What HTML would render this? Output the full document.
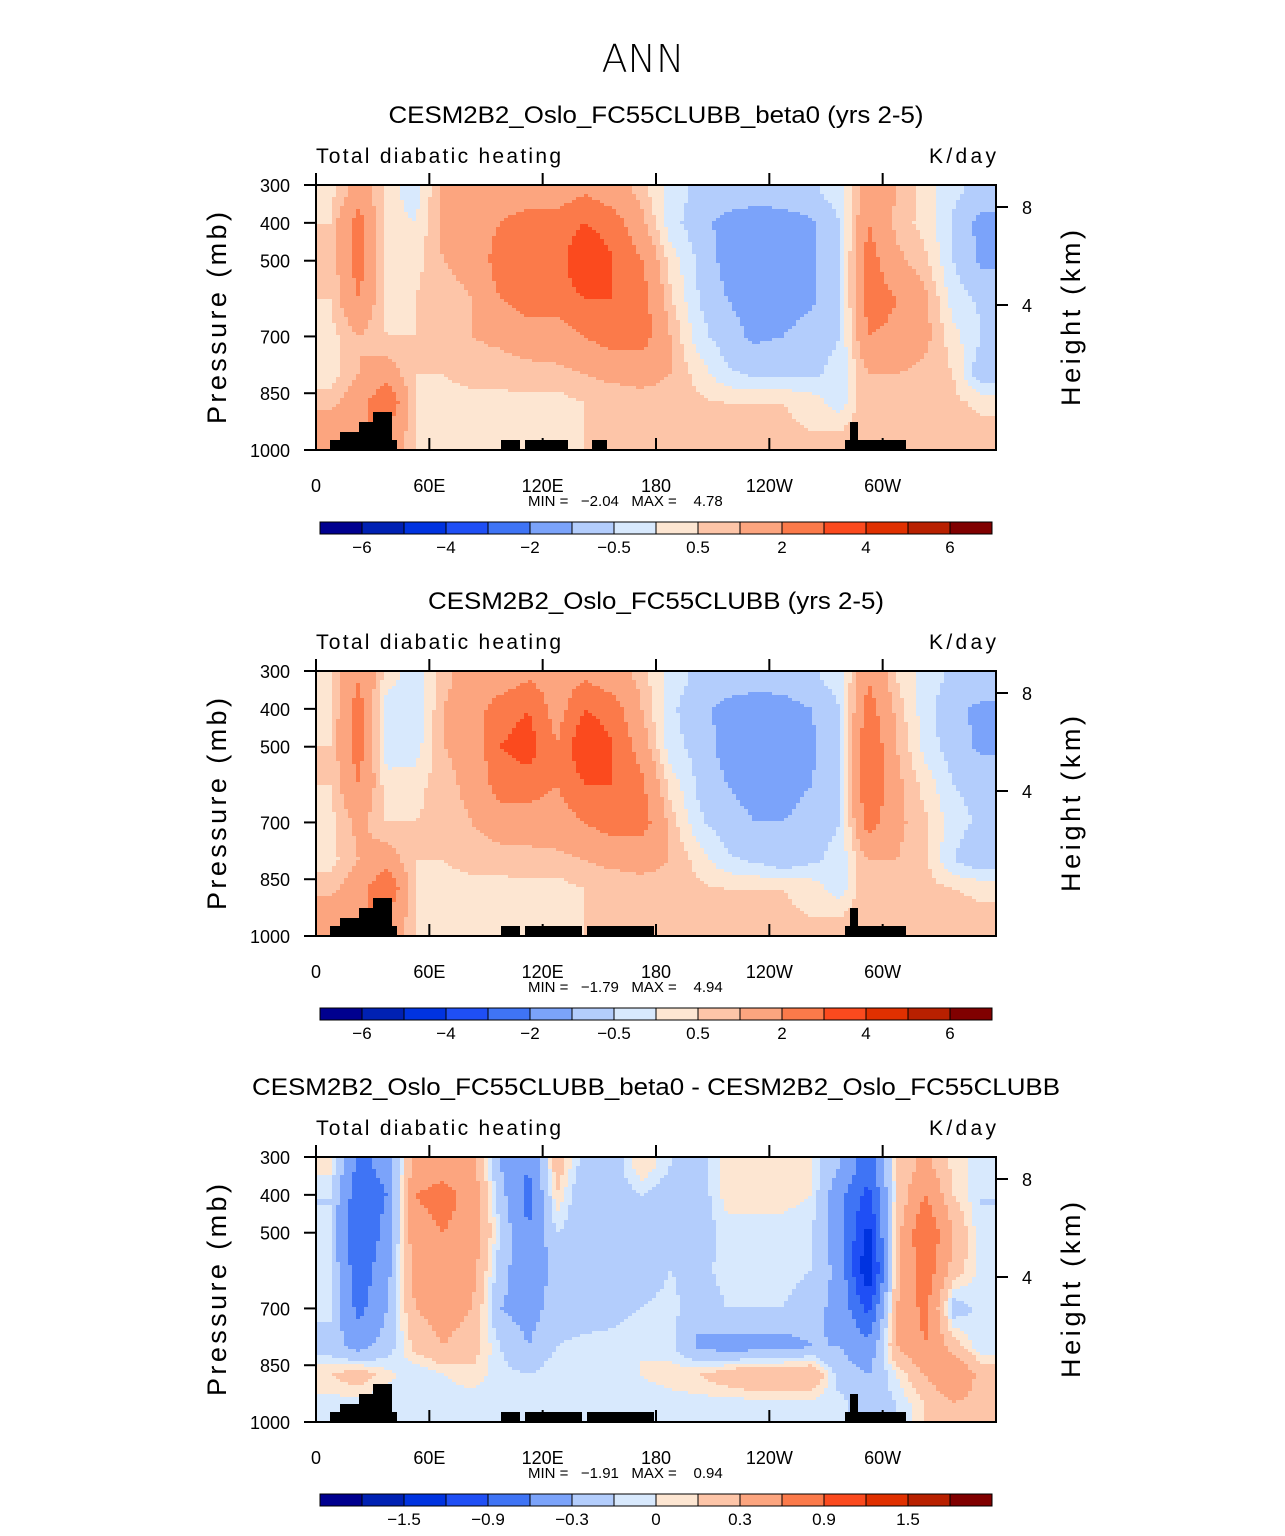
<!DOCTYPE html>
<html><head><meta charset="utf-8">
<style>
body{margin:0;background:#fff;}
svg text{font-family:"Liberation Sans",sans-serif;fill:#000;}
</style></head>
<body>
<svg id="chart" width="1285" height="1531" viewBox="0 0 1285 1531" xmlns="http://www.w3.org/2000/svg">
<text x="643" y="72" font-size="38" text-anchor="middle" style="font-family:'DejaVu Sans',sans-serif;font-weight:200">ANN</text>
</svg>
<script>
// ---- data ----
const lonCenters = [7.5,22.5,37.5,52.5,67.5,82.5,97.5,112.5,127.5,142.5,157.5,172.5,187.5,202.5,217.5,232.5,247.5,262.5,277.5,292.5,307.5,322.5,337.5,352.5];
const presCenters = [325,400,500,600,700,800,875,950];
const levelsAbs = [-6,-5,-4,-3,-2,-1,-0.5,0,0.5,1,2,3,4,5,6];
const levelsDiff = [-1.8,-1.5,-1.2,-0.9,-0.6,-0.3,-0.1,0,0.1,0.3,0.6,0.9,1.2,1.5,1.8];
const labelsAbs = ["−6","−4","−2","−0.5","0.5","2","4","6"];
const labelsDiff = ["−1.5","−0.9","−0.3","0","0.3","0.9","1.5"];
const palette = ["#00008f","#0021b3","#0033e0","#1f4ff5","#3f74f5","#7ba3fa","#b3cdfc","#d8e9fd","#fde6d2","#fdc5a8","#fca57f","#fb7a4a","#fb4a1e","#e03000","#b82000","#800000"];
const lonTicks = ["0","60E","120E","180","120W","60W"];
const presTicks = [300,400,500,700,850,1000];
// panel 1 values, [column][level]
const field1 = [
[0.3,0.5,0.5,0.5,0.3,0.2,0.8,1.5],[1.5,2.5,2.5,2,1,1,1.5,2],[0.3,0.2,0.2,0.3,0.5,1.5,3,2],[-0.3,0,0.3,0.5,0.5,0.5,0.5,0.5],
[1.2,1.2,1,0.8,0.7,0.5,0.4,0.4],[1.5,1.5,1.2,1,1,0.6,0.4,0.4],[1.5,2,2.5,2,1.2,0.6,0.4,0.4],[1.5,2.5,3,2.5,1.5,0.7,0.4,0.4],
[1.5,2.5,2.5,2.5,1.5,0.8,0.3,0.4],[2,3,4,3,2,1,0.5,0.5],[1.5,2.5,3,3,2.5,1.2,0.6,0.6],[0.8,1.2,2,2.5,2.5,1.2,0.8,0.7],
[-0.3,-0.3,0.3,0.6,1,1,0.8,0.7],[-0.6,-0.8,-0.6,-0.5,-0.3,0.3,0.6,0.6],[-0.7,-1.2,-1.2,-1,-0.8,-0.4,0.5,0.6],[-0.8,-1.3,-1.3,-1.2,-1.1,-0.6,0.5,0.6],
[-0.8,-1.2,-1.2,-1.2,-1,-0.6,0.5,0.6],[-0.6,-1.1,-1.1,-1.1,-0.8,-0.6,0.3,0.5],[-0.3,-0.5,-0.5,-0.5,-0.5,-0.3,-0.3,0.5],[1.5,2,2.5,2.5,2,1,1,1],
[1,0.8,1.2,2,1.8,1,0.8,0.8],[0.3,0.3,0.6,1.2,1.2,0.8,0.7,0.7],[-0.4,-0.6,-0.5,-0.3,0.2,0.5,0.6,0.7],[-0.7,-1.2,-1.1,-0.6,-0.5,-1,0.4,0.6]];
const field2 = [
[0.3,0.4,0.5,0.5,0.3,0.3,0.8,1.5],[2,2.5,2.5,2,1.2,1,1.5,2],[0.2,-0.3,-0.3,0.2,0.5,1.5,3,2],[-0.3,-0.5,-0.3,0.3,0.5,0.5,0.5,0.5],
[0.8,1,1,0.8,0.7,0.5,0.4,0.4],[1.5,1.5,1.2,1.2,1,0.6,0.4,0.4],[1.5,2.5,3,2.5,1.5,0.6,0.4,0.4],[2,3,3.5,2.5,1.5,0.7,0.4,0.4],
[1.5,1.5,2,2,1.5,0.8,0.3,0.4],[2,3,4,3,2,1,0.5,0.5],[1.5,2.5,3,3,2.5,1.2,0.6,0.6],[0.8,1,1.5,2.2,2.5,1.2,0.8,0.7],
[-0.3,-0.4,-0.3,0.3,0.8,1,0.8,0.7],[-0.6,-0.8,-0.7,-0.6,-0.4,0.3,0.6,0.6],[-0.7,-1.2,-1.2,-1,-0.8,-0.4,0.5,0.6],[-0.8,-1.3,-1.3,-1.2,-1,-0.6,0.5,0.6],
[-0.8,-1.2,-1.2,-1.2,-1,-0.9,0.5,0.6],[-0.6,-1,-1.1,-1,-0.8,-0.6,0.3,0.5],[-0.3,-0.5,-0.5,-0.5,-0.5,-0.3,-0.3,0.5],[2,2.5,3,3,2.5,1,1,1],
[0.5,0.8,1,1.2,1.2,1,0.8,0.8],[-0.3,-0.3,-0.2,0.3,0.6,0.6,0.7,0.7],[-0.6,-0.9,-0.8,-0.5,-0.3,-0.5,0.5,0.7],[-0.7,-1.1,-1.1,-0.7,-0.6,-1,0.4,0.6]];
const field3 = [
[0.05,-0.1,-0.1,-0.1,-0.05,-0.2,0.1,-0.05],[-0.7,-0.8,-0.9,-0.8,-0.7,-0.4,0.2,-0.05],[-0.5,-0.6,-0.5,-0.4,-0.3,-0.2,0.05,-0.1],[0.4,0.6,0.5,0.4,0.3,0.15,-0.1,-0.05],
[0.5,0.7,0.6,0.5,0.4,0.3,0,-0.05],[0.4,0.5,0.5,0.4,0.3,0.2,0.05,-0.05],[-0.3,-0.2,-0.1,-0.2,-0.3,-0.1,-0.05,-0.05],[-0.6,-0.7,-0.6,-0.5,-0.4,-0.3,-0.1,-0.05],
[0.2,0.1,-0.1,-0.2,-0.2,-0.1,0,-0.05],[-0.2,-0.3,-0.2,-0.2,-0.2,-0.05,0,-0.05],[-0.2,-0.2,-0.2,-0.25,-0.15,-0.05,0,-0.05],[0.1,-0.1,-0.2,-0.2,-0.1,0,0,-0.05],
[-0.1,-0.2,-0.2,-0.1,-0.05,-0.05,0.05,-0.05],[-0.2,-0.2,-0.2,-0.15,-0.2,-0.35,0.1,-0.05],[0.05,0.05,-0.05,-0.05,-0.1,-0.4,0.2,-0.05],[0.05,0.05,-0.05,-0.05,-0.1,-0.4,0.3,-0.05],
[0.05,0.05,-0.05,-0.05,-0.1,-0.4,0.3,-0.05],[0,0,-0.1,-0.1,-0.2,-0.3,0.3,-0.05],[-0.3,-0.5,-0.5,-0.4,-0.4,-0.3,-0.2,-0.05],[-0.8,-1,-1.3,-1.5,-1,-0.5,-0.3,-0.2],
[0.1,0.1,0.2,0.2,0.3,0.3,0,-0.1],[0.4,0.6,0.9,0.8,0.7,0.6,0.3,0.1],[0.05,0.1,0.3,0.2,-0.2,0.2,0.6,0.3],[-0.05,-0.1,-0.1,-0.05,-0.05,-0.1,0.2,0.2]];
const titles = ["CESM2B2_Oslo_FC55CLUBB_beta0 (yrs 2-5)","CESM2B2_Oslo_FC55CLUBB (yrs 2-5)","CESM2B2_Oslo_FC55CLUBB_beta0 - CESM2B2_Oslo_FC55CLUBB"];
const minVals = ["−2.04","−1.79","−1.91"];
const maxVals = ["4.78","4.94","0.94"];

// ---- layout ----
const NS="http://www.w3.org/2000/svg";
const svg=document.getElementById('chart');
const X0=316,X1=996,PH=265;
const panelTops=[185,671,1157];
function mk(tag,attrs,parent){const e=document.createElementNS(NS,tag);for(const k in attrs)e.setAttribute(k,attrs[k]);(parent||svg).appendChild(e);return e;}
function xScale(lon){return X0+lon*(X1-X0)/360;}
function yScale(p,top){return top+(p-300)*PH/700;}
function colorFor(v,levels){let i=0;while(i<levels.length&&v>=levels[i])i++;return palette[i];}
function interp(field,lon,p){
  let i=0;while(i<lonCenters.length-2&&lon>lonCenters[i+1])i++;
  let tx=(lon-lonCenters[i])/(lonCenters[i+1]-lonCenters[i]);tx=Math.max(0,Math.min(1,tx));
  let j=0;while(j<presCenters.length-2&&p>presCenters[j+1])j++;
  let ty=(p-presCenters[j])/(presCenters[j+1]-presCenters[j]);ty=Math.max(0,Math.min(1,ty));
  const a=field[i][j],b=field[i+1][j],c=field[i][j+1],d=field[i+1][j+1];
  return (a*(1-tx)+b*tx)*(1-ty)+(c*(1-tx)+d*tx)*ty;
}
const fields=[field1,field2,field3];
const topoA=[[330,340,440],[340,359,432],[359,373,422],[373,392,412],[392,397,440],[501,520,440],[525,568,440],[592,607,440],[845,850,440],[850,858,422],[858,906,440]];
const topoB=[[330,340,440],[340,359,432],[359,373,422],[373,392,412],[392,397,440],[501,520,440],[525,582,440],[587,654,440],[845,850,440],[850,858,422],[858,906,440]];

panelTops.forEach((top,k)=>{
  const g=mk('g',{});
  
  
  const levels=k===2?levelsDiff:levelsAbs;
  const ft=mk('text',{x:656,y:top-62,'font-size':24,'text-anchor':'middle',textLength:k===0?535:(k===1?456:808),lengthAdjust:'spacingAndGlyphs'},g);ft.textContent=titles[k];
  
  const st=mk('text',{x:316,y:top-22,'font-size':21,textLength:245,lengthAdjust:'spacing'},g);st.textContent="Total diabatic heating";
  
  const ut=mk('text',{x:929,y:top-22,'font-size':21,textLength:67,lengthAdjust:'spacing'},g);ut.textContent="K/day";
  
  // contour fill
  const cg=mk('g',{},g);
  
  const dx=4,dy=3;
  for(let y=top;y<top+PH;y+=dy){
    const p=300+(y+dy/2-top)*700/PH;
    let runStart=X0,runCol=null;
    for(let x=X0;x<=X1;x+=dx){
      let col=null;
      if(x<X1){const lon=(x+dx/2-X0)*360/(X1-X0);col=colorFor(interp(fields[k],lon,p),levels);}
      if(col!==runCol){
        if(runCol!==null){const r=mk('rect',{x:runStart,y:y,width:Math.min(x,X1)-runStart+0.5,height:Math.min(dy,top+PH-y)+0.5,fill:runCol},cg);
          }
        runStart=x;runCol=col;
      }
    }
  }
  // topography
  (k===0?topoA:topoB).forEach(t=>{
    const r=mk('rect',{x:t[0],y:top+(t[2]-185),width:t[1]-t[0],height:450-t[2],fill:'#000'},g);
    
  });
  const fr=mk('rect',{x:X0,y:top,width:X1-X0,height:PH,fill:'none',stroke:'#000','stroke-width':2},g);
  
  // lon ticks
  lonTicks.forEach((lab,i)=>{
    const x=xScale(i*60);
    mk('line',{x1:x,y1:top+PH,x2:x,y2:top+PH-12,stroke:'#000','stroke-width':2},g);
    mk('line',{x1:x,y1:top,x2:x,y2:top-12,stroke:'#000','stroke-width':2},g);
    const t=mk('text',{x:x,y:top+PH+42,'font-size':18,'text-anchor':'middle'},g);t.textContent=lab;
    
  });
  presTicks.forEach(p=>{
    const y=yScale(p,top);
    mk('line',{x1:X0,y1:y,x2:X0-12,y2:y,stroke:'#000','stroke-width':2},g);
    const t=mk('text',{x:290,y:y+7,'font-size':18,'text-anchor':'end'},g);t.textContent=p;
    
  });
  [[8,22],[4,120]].forEach(h=>{
    const y=top+h[1];
    mk('line',{x1:X1,y1:y,x2:X1+12,y2:y,stroke:'#000','stroke-width':2},g);
    const t=mk('text',{x:1022,y:y+7,'font-size':18},g);t.textContent=h[0];
    
  });
  const yl=mk('text',{x:0,y:0,'font-size':27,'text-anchor':'middle',textLength:212,lengthAdjust:'spacing',transform:`translate(226,${top+133}) rotate(-90)`},g);yl.textContent="Pressure (mb)";
  
  const hl=mk('text',{x:0,y:0,'font-size':27,'text-anchor':'middle',textLength:176,lengthAdjust:'spacing',transform:`translate(1080,${top+133}) rotate(-90)`},g);hl.textContent="Height (km)";
  
  const mm=mk('text',{x:528,y:top+PH+56,'font-size':15},g);mm.textContent=`MIN =   ${minVals[k]}   MAX =    ${maxVals[k]}`;
  mm.setAttribute('xml:space','preserve');mm.style.whiteSpace='pre';
  
  // colorbar
  const cb=mk('g',{},g);
  
  const cy=top+PH+72;
  palette.forEach((c,i)=>{
    const r=mk('rect',{x:320+i*42,y:cy,width:42,height:12,fill:c,stroke:'#000','stroke-width':1},cb);
    
  });
  const labs=k===2?labelsDiff:labelsAbs;
  labs.forEach((l,i)=>{
    const x=k===2?404+i*84:362+i*84;
    const t=mk('text',{x:x,y:cy+31,'font-size':17,'text-anchor':'middle'},cb);t.textContent=l;
    
  });
});
</script>
</body></html>
